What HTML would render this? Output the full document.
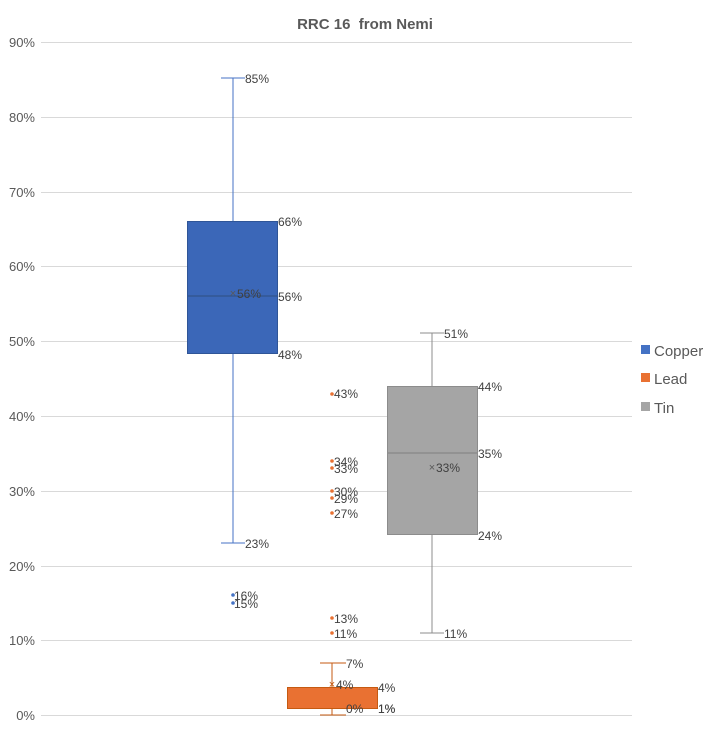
<!DOCTYPE html>
<html><head><meta charset="utf-8"><style>
html,body{margin:0;padding:0;background:#fff;}
text{font-family:"Liberation Sans",sans-serif;}
</style></head><body>
<svg width="717" height="728" xmlns="http://www.w3.org/2000/svg">
<rect width="717" height="728" fill="#fff"/>
<text x="365" y="29" text-anchor="middle" font-size="15" font-weight="bold" fill="#595959">RRC 16&#160; from Nemi</text>
<g stroke="#d9d9d9" stroke-width="1">
<line x1="41" x2="632" y1="42.5" y2="42.5"/>
<line x1="41" x2="632" y1="117.5" y2="117.5"/>
<line x1="41" x2="632" y1="192.5" y2="192.5"/>
<line x1="41" x2="632" y1="266.5" y2="266.5"/>
<line x1="41" x2="632" y1="341.5" y2="341.5"/>
<line x1="41" x2="632" y1="416.5" y2="416.5"/>
<line x1="41" x2="632" y1="491.5" y2="491.5"/>
<line x1="41" x2="632" y1="566.5" y2="566.5"/>
<line x1="41" x2="632" y1="640.5" y2="640.5"/>
<line x1="41" x2="632" y1="715.5" y2="715.5"/>
</g>
<g font-size="13" fill="#595959" text-anchor="end">
<text x="35" y="47">90%</text><text x="35" y="122">80%</text><text x="35" y="197">70%</text>
<text x="35" y="271">60%</text><text x="35" y="346">50%</text><text x="35" y="421">40%</text>
<text x="35" y="496">30%</text><text x="35" y="571">20%</text><text x="35" y="645">10%</text>
<text x="35" y="720">0%</text>
</g>
<!-- Copper -->
<g stroke="#4472c4" stroke-width="1">
<line x1="233" x2="233" y1="78" y2="221"/><line x1="221" x2="245" y1="78" y2="78"/>
<line x1="233" x2="233" y1="354" y2="543"/><line x1="221" x2="245" y1="543" y2="543"/>
</g>
<rect x="187.5" y="221.5" width="90" height="132" fill="#3b67b8" stroke="#2f5597"/>
<line x1="188" x2="277" y1="296" y2="296" stroke="#2f4f80"/>
<circle cx="233" cy="595" r="1.8" fill="#4472c4"/><circle cx="233" cy="603" r="1.8" fill="#4472c4"/>
<!-- Lead -->
<g stroke="#c55a11" stroke-width="1">
<line x1="332" x2="332" y1="663" y2="687"/><line x1="320" x2="346" y1="663" y2="663"/>
<line x1="332" x2="332" y1="709" y2="715"/><line x1="320" x2="346" y1="715" y2="715"/>
</g>
<rect x="287.5" y="687.5" width="90" height="21" fill="#e97132" stroke="#c55a11"/>
<g fill="#e97132">
<circle cx="332" cy="394" r="1.8"/><circle cx="332" cy="461" r="1.8"/><circle cx="332" cy="468" r="1.8"/>
<circle cx="332" cy="491" r="1.8"/><circle cx="332" cy="498" r="1.8"/><circle cx="332" cy="513" r="1.8"/>
<circle cx="332" cy="618" r="1.8"/><circle cx="332" cy="633" r="1.8"/>
</g>
<!-- Tin -->
<g stroke="#8c8c8c" stroke-width="1">
<line x1="432" x2="432" y1="333" y2="386"/><line x1="420" x2="444" y1="333" y2="333"/>
<line x1="432" x2="432" y1="535" y2="633"/><line x1="420" x2="444" y1="633" y2="633"/>
</g>
<rect x="387.5" y="386.5" width="90" height="148" fill="#a5a5a5" stroke="#8c8c8c"/>
<line x1="388" x2="477" y1="453" y2="453" stroke="#7f7f7f"/>
<!-- mean markers -->
<g font-size="11" fill="#595959" text-anchor="middle">
<text x="233" y="297">×</text><text x="332" y="688" fill="#c55a11">×</text><text x="432" y="471">×</text>
</g>
<!-- labels -->
<g font-size="12" fill="#404040">
<text x="245" y="83">85%</text><text x="278" y="226">66%</text><text x="237" y="298">56%</text>
<text x="278" y="301">56%</text><text x="278" y="359">48%</text><text x="245" y="548">23%</text>
<text x="234" y="600">16%</text><text x="234" y="608">15%</text>
<text x="346" y="668">7%</text><text x="336" y="689">4%</text><text x="378" y="692">4%</text>
<text x="346" y="713">0%</text><text x="378" y="713">1%</text><text x="378" y="713">1%</text>
<text x="334" y="398">43%</text><text x="334" y="466">34%</text><text x="334" y="473">33%</text>
<text x="334" y="496">30%</text><text x="334" y="503">29%</text><text x="334" y="518">27%</text>
<text x="334" y="623">13%</text><text x="334" y="638">11%</text>
<text x="444" y="338">51%</text><text x="478" y="391">44%</text><text x="436" y="472">33%</text>
<text x="478" y="458">35%</text><text x="478" y="540">24%</text><text x="444" y="638">11%</text>
</g>
<!-- legend -->
<rect x="641" y="345" width="9" height="9" fill="#4472c4"/>
<rect x="641" y="373" width="9" height="9" fill="#e97132"/>
<rect x="641" y="402" width="9" height="9" fill="#a5a5a5"/>
<g font-size="15" fill="#595959">
<text x="654" y="356">Copper</text><text x="654" y="384">Lead</text><text x="654" y="413">Tin</text>
</g>
</svg>
</body></html>
